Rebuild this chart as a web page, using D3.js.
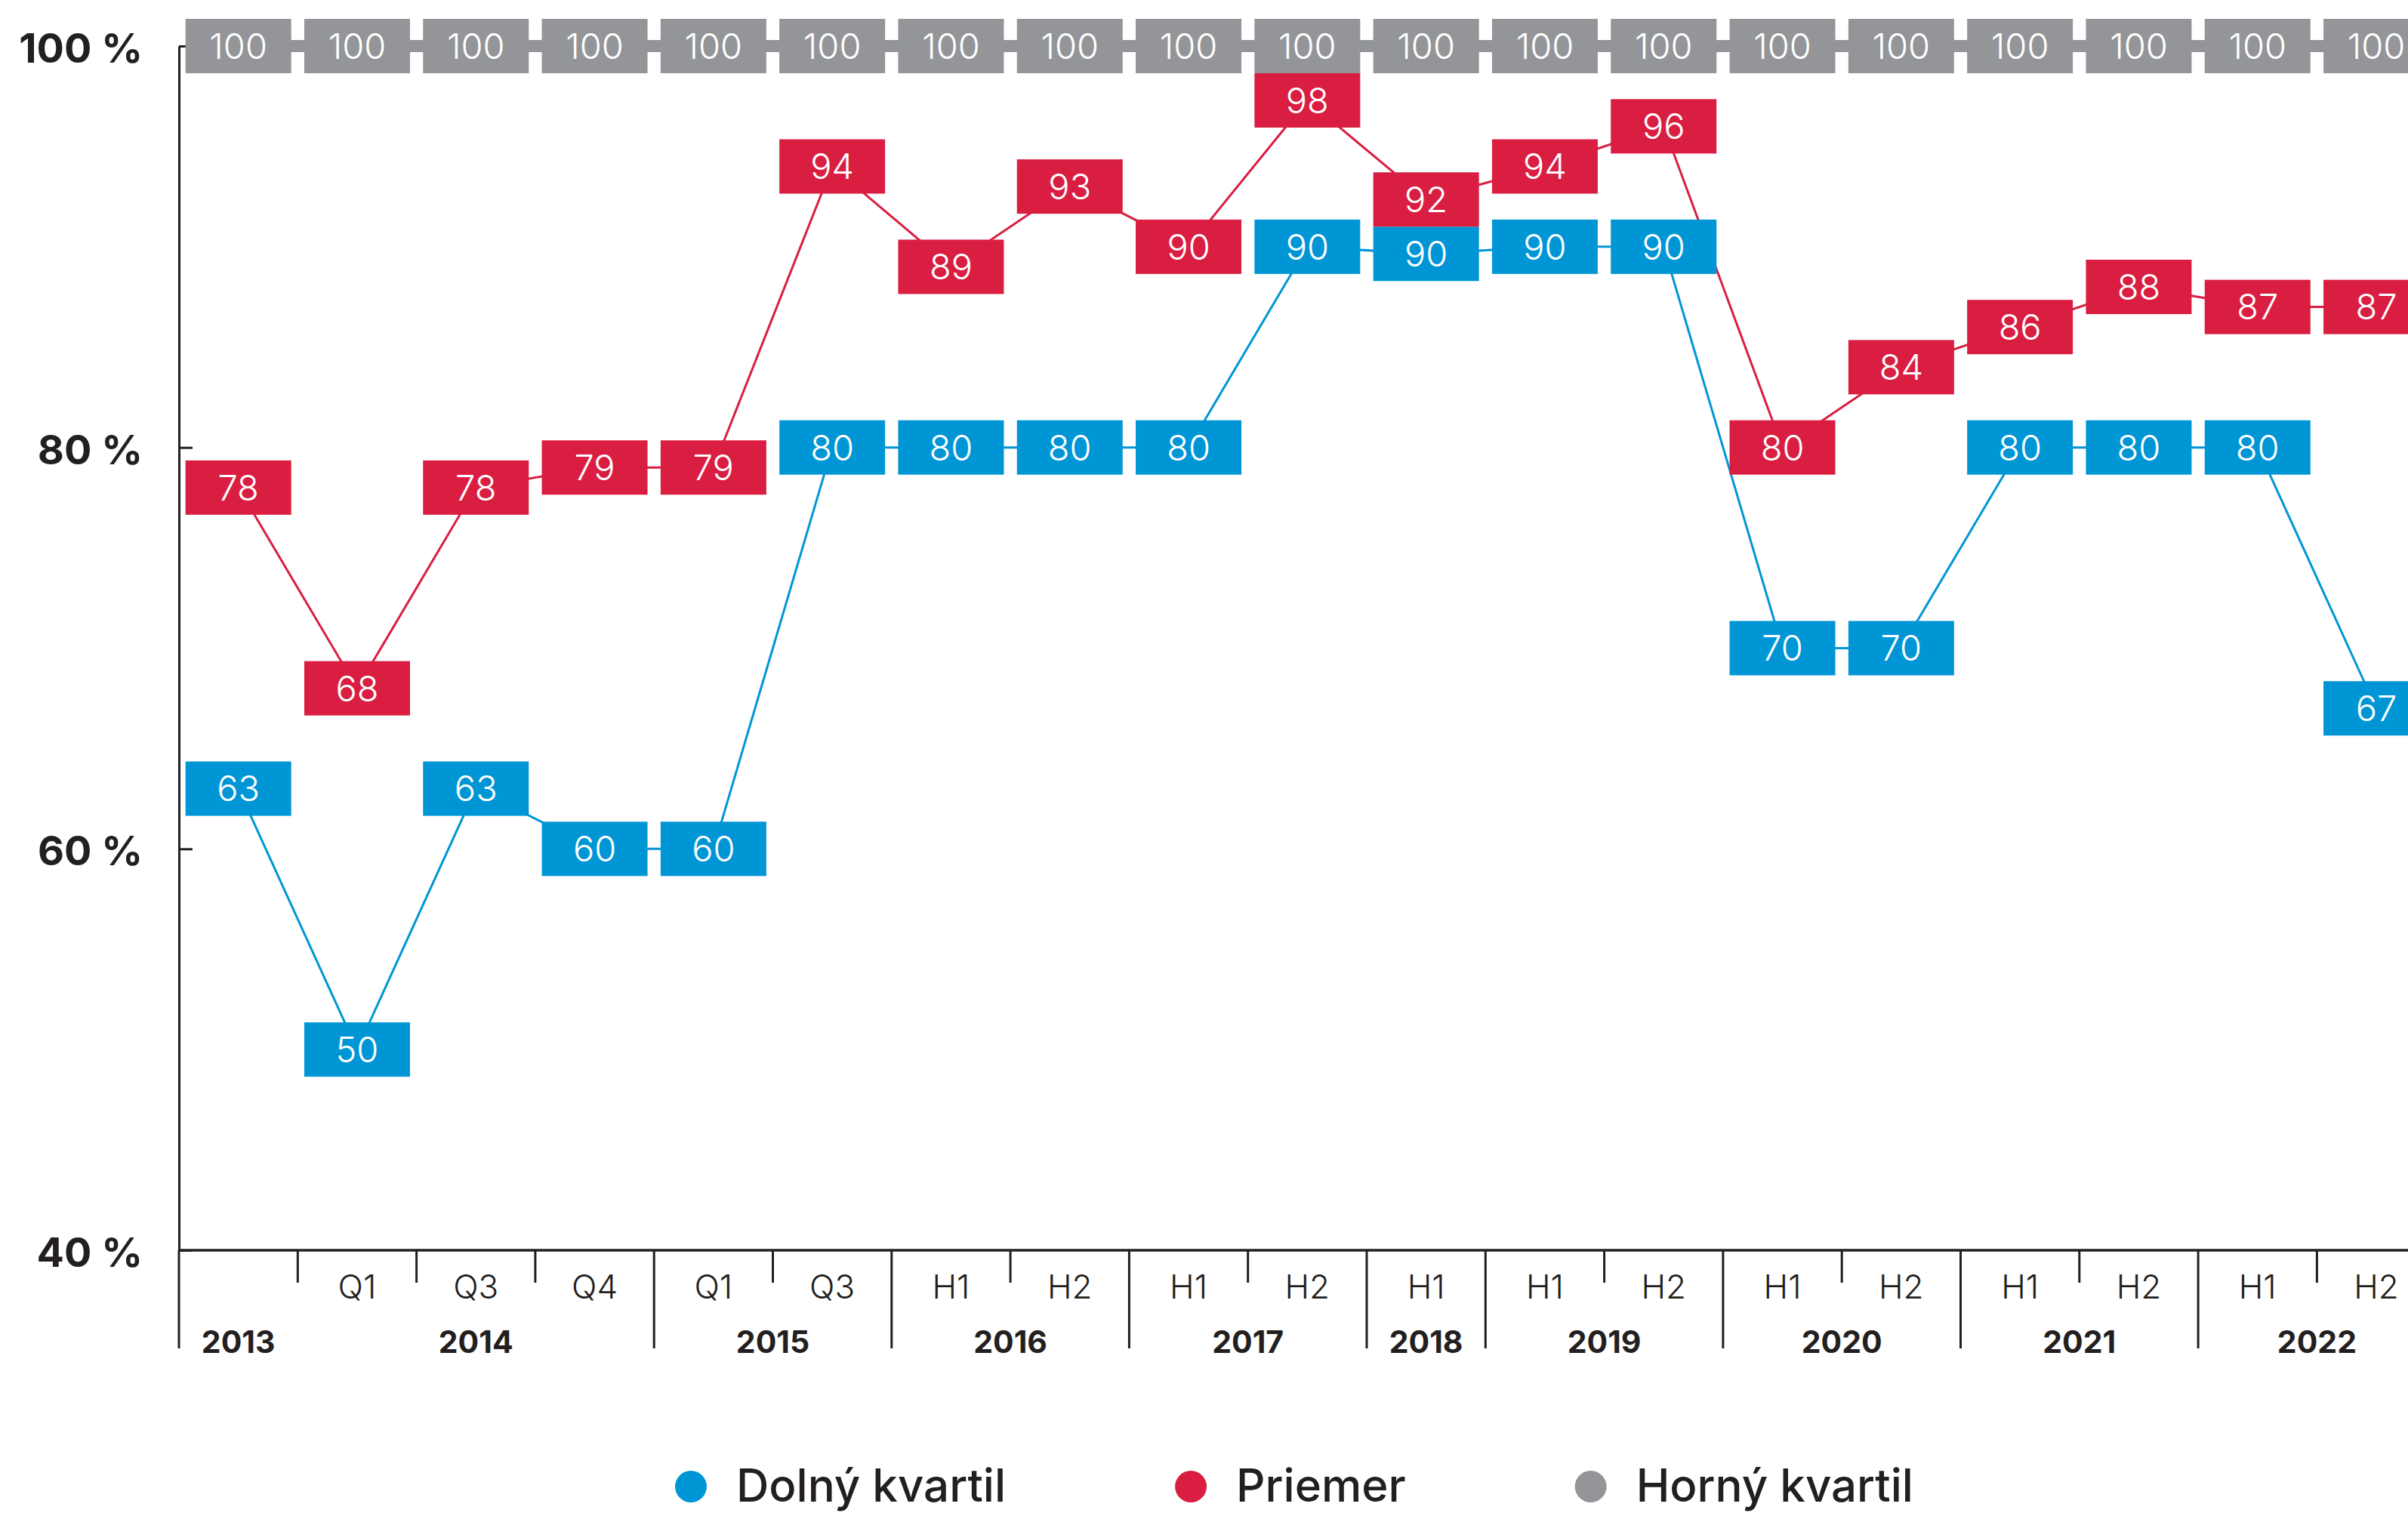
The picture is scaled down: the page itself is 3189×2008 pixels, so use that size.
<!DOCTYPE html>
<html lang="sk">
	<head>
		<meta charset="utf-8">
		<title>Kvartily</title>
		<script type="text/javascript" src="https://d3js.org/d3.v7.min.js"></script>
		<style type="text/css">
			body { margin: 0; background: #fff; }
			text { font-family: Inter, "Noto Sans", sans-serif; }
		</style>
	</head>
	<body>
		<script type="text/javascript">

			var w = 3189;
			var h = 2008;

			// categories: sub-period label + year
			var periods = ["", "Q1", "Q3", "Q4", "Q1", "Q3", "H1", "H2", "H1", "H2", "H1", "H1", "H2", "H1", "H2", "H1", "H2", "H1", "H2"];
			var years = ["2013", "2014", "2014", "2014", "2015", "2015", "2016", "2016", "2017", "2017", "2018", "2019", "2019", "2020", "2020", "2021", "2021", "2022", "2022"];

			var lowerQuartile = [63, 50, 63, 60, 60, 80, 80, 80, 80, 90, 90, 90, 90, 70, 70, 80, 80, 80, 67];
			var average = [78, 68, 78, 79, 79, 94, 89, 93, 90, 98, 92, 94, 96, 80, 84, 86, 88, 87, 87];
			var upperQuartile = [100, 100, 100, 100, 100, 100, 100, 100, 100, 100, 100, 100, 100, 100, 100, 100, 100, 100, 100];

			var yTicks = [40, 60, 80, 100];

			var series = [
				{name: "Dolný kvartil", values: lowerQuartile, color: "#0096d6", width: 3, fixed: false},
				{name: "Priemer", values: average, color: "#d91e41", width: 3, fixed: false},
				{name: "Horný kvartil", values: upperQuartile, color: "#939598", width: 16, fixed: true}
			];

			var svg = d3.select("body")
						.append("svg")
						.attr("width", w)
						.attr("height", h)
						.style("display", "block");

			var left = 237, step = 157.3;
			var boxH = 72;
			var axisY = 1656;

			var x = d3.scaleBand()
						.domain(d3.range(periods.length))
						.range([left, left + step * periods.length])
						.paddingInner(0.11)
						.paddingOuter(0.055);

			var y = d3.scaleLinear()
						.domain([40, 100])
						.range([axisY, 61]);

			function cx(i){ return x(i) + x.bandwidth() / 2; }

			// box positions, pushed apart where two boxes in a column overlap
			var boxes = [];
			series.forEach(function(s){
				s.values.forEach(function(v, i){
					boxes.push({s: s, i: i, v: v, y: y(v)});
				});
			});
			d3.range(periods.length).forEach(function(i){
				var col = boxes.filter(function(b){ return b.i == i; })
								.sort(function(a, b){ return a.y - b.y; });
				for (var k = 0; k < col.length - 1; k++){
					var a = col[k], b = col[k + 1];
					var over = boxH - (b.y - a.y);
					if (over > 0){
						if (a.s.fixed){ b.y += over; }
						else if (b.s.fixed){ a.y -= over; }
						else { a.y -= over / 2; b.y += over / 2; }
					}
				}
			});

			// y axis
			var yAxis = d3.axisLeft(y)
							.tickValues(yTicks)
							.tickSizeInner(-18)
							.tickSizeOuter(0)
							.tickPadding(48)
							.tickFormat(function(d){ return d + " %"; });

			var gy = svg.append("g")
						.attr("transform", "translate(" + left + ",0)")
						.call(yAxis);
			gy.select(".domain").attr("stroke", "#231f20").attr("stroke-width", 3);
			gy.selectAll(".tick line").attr("stroke", "#231f20").attr("stroke-width", 3);
			gy.selectAll(".tick text")
				.attr("fill", "#231f20")
				.attr("font-size", 54)
				.attr("font-weight", 700)
				.attr("dy", "0.4em");

			// x axis
			svg.append("line")
				.attr("x1", left).attr("x2", w)
				.attr("y1", axisY).attr("y2", axisY)
				.attr("stroke", "#231f20")
				.attr("stroke-width", 3.5);

			var bounds = d3.range(periods.length + 1);
			svg.selectAll(".xtick")
				.data(bounds)
				.enter()
				.append("line")
				.attr("class", "xtick")
				.attr("x1", function(d){ return left + d * x.step(); })
				.attr("x2", function(d){ return left + d * x.step(); })
				.attr("y1", axisY)
				.attr("y2", function(d){
					var major = d == 0 || d == periods.length ||
						(years[d] != years[d - 1] && periods[d - 1] != "");
					return major ? 1786 : 1699;
				})
				.attr("stroke", "#231f20")
				.attr("stroke-width", 3);

			svg.selectAll(".period")
				.data(periods)
				.enter()
				.append("text")
				.attr("class", "period")
				.attr("x", function(d, i){ return cx(i); })
				.attr("y", 1720)
				.attr("text-anchor", "middle")
				.attr("font-size", 44)
				.attr("font-weight", 300)
				.attr("fill", "#231f20")
				.text(function(d){ return d; });

			var yearGroups = d3.groups(d3.range(years.length), function(i){ return years[i]; });
			svg.selectAll(".year")
				.data(yearGroups)
				.enter()
				.append("text")
				.attr("class", "year")
				.attr("x", function(d){ return d3.mean(d[1], cx); })
				.attr("y", 1792)
				.attr("text-anchor", "middle")
				.attr("font-size", 41)
				.attr("font-weight", 700)
				.attr("fill", "#231f20")
				.text(function(d){ return d[0]; });

			// connecting lines
			var line = d3.line()
						.x(function(d){ return cx(d.i); })
						.y(function(d){ return d.y; });

			series.slice().reverse().forEach(function(s){
				svg.append("path")
					.datum(boxes.filter(function(b){ return b.s === s; }))
					.attr("d", line)
					.attr("fill", "none")
					.attr("stroke", s.color)
					.attr("stroke-width", s.width);
			});

			// value boxes
			var g = svg.selectAll(".box")
						.data(boxes)
						.enter()
						.append("g")
						.attr("class", "box")
						.attr("transform", function(d){ return "translate(" + x(d.i) + "," + (d.y - boxH / 2) + ")"; });

			g.append("rect")
				.attr("width", x.bandwidth())
				.attr("height", boxH)
				.attr("fill", function(d){ return d.s.color; });

			g.append("text")
				.attr("x", x.bandwidth() / 2)
				.attr("y", boxH / 2)
				.attr("dy", "0.36em")
				.attr("text-anchor", "middle")
				.attr("font-size", 47)
				.attr("font-weight", 300)
				.attr("fill", "#fff")
				.text(function(d){ return d.v; });

			// legend
			var lx = 915;
			series.forEach(function(s){
				svg.append("circle")
					.attr("cx", lx)
					.attr("cy", 1969)
					.attr("r", 21)
					.attr("fill", s.color);
				var t = svg.append("text")
					.attr("x", lx + 60)
					.attr("y", 1989)
					.attr("font-size", 60)
					.attr("font-weight", 500)
					.attr("fill", "#231f20")
					.text(s.name);
				lx = lx + 60 + t.node().getComputedTextLength() + 245;
			});

		</script>
	</body>
</html>
